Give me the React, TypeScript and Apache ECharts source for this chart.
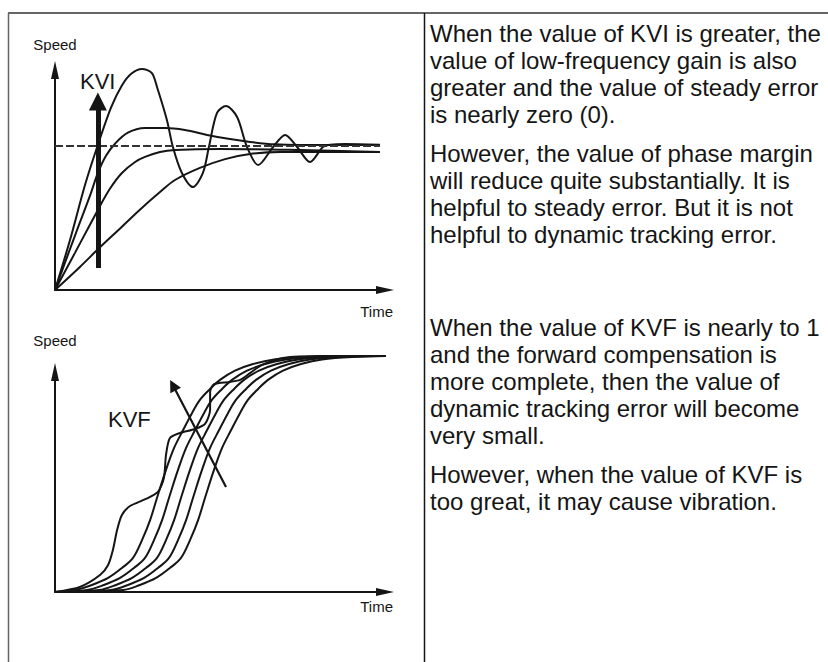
import React, { useEffect, useRef } from "react";
import * as echarts from "echarts";

const FONT = "'Liberation Sans', Arial, Helvetica, sans-serif";
const INK = "#151515";

// ---------- Upper diagram: response for different KVI (time, speed) ----------
const kviCurveA: number[][] = [
  [0, 0], [5, 22.7], [10, 47.7], [14.3, 66], [18.7, 83], [22.3, 93], [25.5, 98.4], [29, 100.5],
  [32.3, 98.6], [34, 92.3], [37.3, 77.3], [39.3, 65], [42.3, 53.2], [46, 46.8], [49.3, 53.2],
  [51.3, 65], [54, 80.5], [57, 83.6], [60.7, 78.6], [64, 65], [67.7, 56.8], [72.7, 65],
  [76.7, 70.5], [80.7, 65], [85, 58.2], [89.3, 65], [91.7, 66], [96.7, 66.4], [108.3, 66],
];
const kviCurveB: number[][] = [
  [0, 0], [7, 26], [11.7, 43], [14.3, 53.2], [17, 61], [20, 66.5], [24.3, 71.5], [30, 73.6],
  [36.7, 73.6], [43.3, 72.7], [50.7, 70.5], [58.3, 68.6], [65, 67.3], [73.3, 66.2], [81.7, 65.9],
  [108.3, 65.9],
];
const kviCurveC: number[][] = [
  [0, 0], [6.7, 17], [14.3, 36.4], [18.3, 46], [22.3, 53.2], [26.7, 58.2], [30, 60.5], [35, 62.7],
  [40, 63.6], [55, 64.1], [81.7, 63.6], [108.3, 62.7],
];
const kviCurveD: number[][] = [
  [0, 0], [8.3, 10.5], [14.3, 18.5], [21.7, 28], [28.3, 36.5], [35, 44.5], [40, 50], [48.3, 55.5],
  [56.7, 59.5], [65, 61.8], [75, 62.7], [108.3, 62.7],
];
const kviSteady: number[][] = [[0, 65.5], [108.3, 65.5]];
const kviArrow: number[][] = [[14.3, 10], [14.3, 85.7]];

// ---------- Lower diagram: response for different KVF (time, speed) ----------
const kvfCurve1: number[][] = [
  [0, 0], [8.3, 2.3], [15, 7.7], [17.7, 12.3], [19.3, 19.1], [20.7, 28.2], [22.3, 35], [25, 39.1],
  [30.3, 42.3], [34.3, 45.5], [36.3, 51.8], [37, 62.3], [38.3, 70], [41.7, 72.3], [46.7, 74.1],
  [50, 76.4], [51.7, 82.7], [51.7, 90.9], [53, 94.5], [58.3, 95.5], [61.7, 96.4], [65, 99.5],
  [69, 103.2], [76, 106.4], [88.3, 107.3], [113.3, 107.3],
];
const kvfCurve2: number[][] = [
  [0, 0], [6.7, 0.9], [12.3, 3.2], [17.7, 6.4], [22.3, 10.9], [26, 15.5], [29, 23.6], [31.7, 32.7],
  [34.3, 44.1], [37, 55.5], [39.7, 65.5], [42.7, 73.6], [45.7, 81.4], [48.3, 87.3], [51.7, 92.3],
  [55, 96.4], [60, 100.6], [66, 103.6], [73, 105.7], [83, 106.8], [97, 107.3], [113.3, 107.3],
];
const kvfCurve3: number[][] = [
  [0, 0], [10.7, 0.9], [16.3, 3.2], [21.7, 6.4], [26.3, 10.9], [30, 15.5], [33, 23.6], [35.7, 32.7],
  [38.3, 44.1], [41, 55.5], [43.7, 65.5], [46.7, 73.6], [49.7, 81.4], [52.3, 87.3], [55.7, 92.3],
  [59, 96.4], [64, 100.6], [70, 103.6], [77, 105.7], [87, 106.8], [101, 107.3], [113.3, 107.3],
];
const kvfCurve4: number[][] = [
  [0, 0], [14.7, 0.9], [20.3, 3.2], [25.7, 6.4], [30.3, 10.9], [34, 15.5], [37, 23.6], [39.7, 32.7],
  [42.3, 44.1], [45, 55.5], [47.7, 65.5], [50.7, 73.6], [53.7, 81.4], [56.3, 87.3], [59.7, 92.3],
  [63, 96.4], [68, 100.6], [74, 103.6], [81, 105.7], [91, 106.8], [104, 107.3], [113.3, 107.3],
];
const kvfCurve5: number[][] = [
  [0, 0], [18.7, 0.9], [24.3, 3.2], [29.7, 6.4], [34.3, 10.9], [38, 15.5], [41, 23.6], [43.7, 32.7],
  [46.3, 44.1], [49, 55.5], [51.7, 65.5], [54.7, 73.6], [57.7, 81.4], [60.3, 87.3], [63.7, 92.3],
  [67, 96.4], [72, 100.6], [78, 103.6], [85, 105.7], [95, 106.8], [108, 107.3], [113.3, 107.3],
];
const kvfCurve6: number[][] = [
  [0, 0], [22.7, 0.9], [28.3, 3.2], [33.7, 6.4], [38.3, 10.9], [42, 15.5], [45, 23.6], [47.7, 32.7],
  [50.3, 44.1], [53, 55.5], [55.7, 65.5], [58.7, 73.6], [61.7, 81.4], [64.3, 87.3], [67.7, 92.3],
  [71, 96.4], [76, 100.6], [82, 103.6], [89, 105.7], [99, 106.8], [113.3, 107.3],
];
const kvfArrow: number[][] = [[57, 47.7], [39.3, 94]];

// ---------- Texts ----------
const axisNameY = "Speed";
const axisNameX = "Time";
const labelKVI = "KVI";
const labelKVF = "KVF";
const paragraphs: { lines: string[]; top: number }[] = [
  {
    top: 20,
    lines: [
      "When the value of KVI is greater, the",
      "value of low-frequency gain is also",
      "greater and the value of steady error",
      "is nearly zero (0).",
    ],
  },
  {
    top: 140,
    lines: [
      "However, the value of phase margin",
      "will reduce quite substantially. It is",
      "helpful to steady error. But it is not",
      "helpful to dynamic tracking error.",
    ],
  },
  {
    top: 314,
    lines: [
      "When the value of KVF is nearly to 1",
      "and the forward compensation is",
      "more complete, then the value of",
      "dynamic tracking error will become",
      "very small.",
    ],
  },
  {
    top: 461,
    lines: ["However, when the value of KVF is", "too great, it may cause vibration."],
  },
];

function curve(data: number[][], idx: number, smooth = 0.35): any {
  return {
    type: "line",
    xAxisIndex: idx,
    yAxisIndex: idx,
    data,
    showSymbol: false,
    smooth,
    clip: false,
    silent: true,
    lineStyle: { color: INK, width: 2 },
    emphasis: { disabled: true },
  };
}

function axisPair(idx: number, nameGap: number, timePad: number) {
  const line = {
    show: true,
    onZero: false,
    symbol: ["none", "triangle"],
    symbolSize: [8, 18],
    lineStyle: { color: INK, width: 2 },
  };
  const x = {
    type: "value",
    gridIndex: idx,
    min: 0,
    max: 110,
    axisLine: line,
    axisTick: { show: false },
    axisLabel: { show: false },
    splitLine: { show: false },
    name: axisNameX,
    nameLocation: "end",
    nameGap: 8,
    nameTextStyle: {
      fontFamily: FONT,
      fontSize: 15,
      color: INK,
      align: "right",
      verticalAlign: "top",
      padding: [timePad, 0, 0, 0],
    },
  };
  const y = {
    type: "value",
    gridIndex: idx,
    min: 0,
    max: 100,
    axisLine: line,
    axisTick: { show: false },
    axisLabel: { show: false },
    splitLine: { show: false },
    name: axisNameY,
    nameLocation: "end",
    nameGap,
    nameTextStyle: { fontFamily: FONT, fontSize: 15, color: INK },
  };
  return { x, y };
}

export default function App() {
  const ref = useRef<HTMLDivElement>(null);
  useEffect(() => {
    document.body.style.margin = "0";
    if (!ref.current) return;
    const chart = echarts.init(ref.current, undefined, { renderer: "svg" });
    const top = axisPair(0, 18.5, 13.5);
    const bottom = axisPair(1, 24.5, 7);

    const texts: any[] = paragraphs.map((p) => ({
      type: "text",
      x: 430,
      y: p.top,
      silent: true,
      style: {
        text: p.lines.join("\n"),
        font: `24px ${FONT}`,
        fill: INK,
        lineHeight: 27,
        textVerticalAlign: "top",
        verticalAlign: "top",
      },
    }));

    const option: any = {
      animation: false,
      backgroundColor: "#ffffff",
      grid: [
        { left: 55, top: 70, width: 330, height: 220 },
        { left: 55, top: 372, width: 330, height: 220 },
      ],
      xAxis: [top.x, bottom.x],
      yAxis: [top.y, bottom.y],
      series: [
        curve(kviCurveD, 0),
        curve(kviCurveC, 0),
        curve(kviCurveB, 0),
        curve(kviCurveA, 0, 0.3),
        {
          type: "line",
          xAxisIndex: 0,
          yAxisIndex: 0,
          data: kviSteady,
          showSymbol: false,
          silent: true,
          clip: false,
          lineStyle: { color: "#333", width: 2, type: [8, 3] },
          emphasis: { disabled: true },
          markLine: {
            silent: true,
            symbol: ["none", "triangle"],
            symbolSize: 18,
            label: { show: false },
            emphasis: { disabled: true },
            lineStyle: { color: INK, width: 5, type: "solid" },
            data: [[{ coord: kviArrow[0] }, { coord: kviArrow[1] }]],
          },
        },
        curve(kvfCurve6, 1),
        curve(kvfCurve5, 1),
        curve(kvfCurve4, 1),
        curve(kvfCurve3, 1),
        curve(kvfCurve2, 1),
        {
          ...curve(kvfCurve1, 1, 0.25),
          markLine: {
            silent: true,
            symbol: ["none", "triangle"],
            symbolSize: 12,
            label: { show: false },
            emphasis: { disabled: true },
            lineStyle: { color: INK, width: 2.2, type: "solid" },
            data: [[{ coord: kvfArrow[0] }, { coord: kvfArrow[1] }]],
          },
        },
      ],
      graphic: [
        { type: "line", silent: true, shape: { x1: 8, y1: 13, x2: 828, y2: 13 }, style: { stroke: "#666", lineWidth: 2 } },
        { type: "line", silent: true, shape: { x1: 8.5, y1: 13, x2: 8.5, y2: 662 }, style: { stroke: "#666", lineWidth: 1.5 } },
        { type: "line", silent: true, shape: { x1: 424.5, y1: 13, x2: 424.5, y2: 662 }, style: { stroke: INK, lineWidth: 1.5 } },
        {
          type: "text",
          x: 80,
          y: 81,
          silent: true,
          style: { text: labelKVI, font: `22px ${FONT}`, fill: INK, verticalAlign: "middle", textVerticalAlign: "middle" },
        },
        {
          type: "text",
          x: 108,
          y: 419,
          silent: true,
          style: { text: labelKVF, font: `22px ${FONT}`, fill: INK, verticalAlign: "middle", textVerticalAlign: "middle" },
        },
        ...texts,
      ],
    };
    chart.setOption(option);
    return () => chart.dispose();
  }, []);
  return (
    <div
      ref={ref}
      style={{ position: "absolute", left: 0, top: 0, width: 828, height: 662, background: "#fff" }}
    />
  );
}
